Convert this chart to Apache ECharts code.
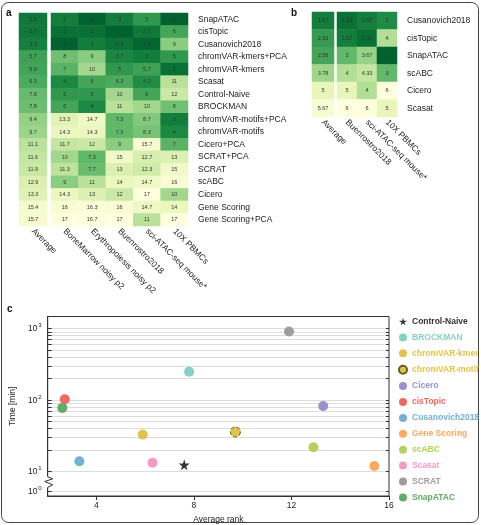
<!DOCTYPE html>
<html>
<head>
<meta charset="utf-8">
<script src="https://cdn.jsdelivr.net/npm/echarts@6/dist/echarts.min.js"></script>
<style>
html, body { margin: 0; padding: 0; background: #fff; }
#main { width: 481px; height: 525px; }
</style>
</head>
<body>
<div id="main"></div>
<script>
// panel a
var methodsA = ['SnapATAC', 'cisTopic', 'Cusanovich2018', 'chromVAR-kmers+PCA', 'chromVAR-kmers', 'Scasat',
    'Control-Naive', 'BROCKMAN', 'chromVAR-motifs+PCA', 'chromVAR-motifs', 'Cicero+PCA', 'SCRAT+PCA',
    'SCRAT', 'scABC', 'Cicero', 'Gene Scoring', 'Gene Scoring+PCA'];
var datasetsA = ['BoneMarrow noisy p2', 'Erythropoiesis noisy p2', 'Buenrostro2018', 'sci-ATAC-seq mouse*', '10X PBMCs'];
var averageA = [2.6, 2.7, 3.3, 5.7, 5.9, 6.3, 7.6, 7.8, 9.4, 9.7, 11.1, 11.6, 11.9, 12.9, 13.3, 15.4, 15.7];
var ranksA = [
    [3, 1, 3, 5, 1],
    [2, 2, 1, 2.7, 6],
    [1, 3, 2.3, 1.3, 9],
    [8, 9, 3.7, 3, 5],
    [7, 10, 5, 5.7, 2],
    [4, 6, 6.3, 4.3, 11],
    [5, 5, 10, 6, 12],
    [6, 4, 11, 10, 8],
    [13.3, 14.7, 7.3, 8.7, 3],
    [14.3, 14.3, 7.3, 8.3, 4],
    [11.7, 12, 9, 15.7, 7],
    [10, 7.3, 15, 12.7, 13],
    [11.3, 7.7, 13, 12.3, 15],
    [9, 11, 14, 14.7, 16],
    [14.3, 13, 12, 17, 10],
    [16, 16.3, 16, 14.7, 14],
    [17, 16.7, 17, 11, 17]
];

// panel b
var methodsB = ['Cusanovich2018', 'cisTopic', 'SnapATAC', 'scABC', 'Cicero', 'Scasat'];
var datasetsB = ['Buenrostro2018', 'sci-ATAC-seq mouse*', '10X PBMCs'];
var averageB = [1.67, 2.33, 2.56, 3.78, 5, 5.67];
var ranksB = [
    [1.33, 1.67, 2],
    [1.67, 1.33, 4],
    [3, 3.67, 1],
    [4, 4.33, 3],
    [5, 4, 6],
    [6, 6, 5]
];

// panel c
var pointNames = ['Control-Naive', 'BROCKMAN', 'chromVAR-kmer', 'chromVAR-motif', 'Cicero', 'cisTopic',
    'Cusanovich2018', 'Gene Scoring', 'scABC', 'Scasat', 'SCRAT', 'SnapATAC'];
var pointRank = [7.6, 7.8, 5.9, 9.7, 13.3, 2.7, 3.3, 15.4, 12.9, 6.3, 11.9, 2.6];
var pointTime = [12.5, 250, 33, 36, 83, 103, 14, 12, 22, 13.3, 915, 78];
var pointColors = ['#333333', '#84d2c2', '#e2c44c', '#e2c44c', '#9d90d0', '#f06a60', '#70b1d8',
    '#fba95c', '#b2d25c', '#f49bc3', '#a39a9a', '#60ad66'];
var timeTicks = [1, 10, 100, 1000];
var rankTicks = [4, 8, 12, 16];

var greens = ['#00632f', '#1e8c44', '#62b96a', '#b2de95', '#e9f6bb', '#ffffde'];
var FONT = 'Liberation Sans, Arial, sans-serif';
var BREAK_POS = 0.72; // where 10^0 sits below the axis break

function yPos(t) {
    return t < 10 ? BREAK_POS : Math.log10(t);
}

function heatData(rows, isAverage) {
    var out = [];
    for (var i = 0; i < rows.length; i++) {
        if (isAverage) {
            out.push([0, i, rows[i]]);
        } else {
            for (var j = 0; j < rows[i].length; j++) {
                out.push([j, i, rows[i][j]]);
            }
        }
    }
    return out;
}

function catX(gridIndex, names) {
    return {
        type: 'category', gridIndex: gridIndex, data: names, position: 'bottom',
        axisLine: {show: false}, axisTick: {show: false}, splitArea: {show: false},
        axisLabel: {rotate: -45, fontSize: 8.5, color: '#222', margin: 4, interval: 0}
    };
}

function catY(gridIndex, names, showLabels) {
    return {
        type: 'category', gridIndex: gridIndex, data: names, inverse: true, position: 'right',
        axisLine: {show: false}, axisTick: {show: false}, splitArea: {show: false},
        axisLabel: {show: showLabels, fontSize: 8.5, color: '#222', margin: 10, interval: 0}
    };
}

function heatSeries(idx, data) {
    return {
        type: 'heatmap', xAxisIndex: idx, yAxisIndex: idx, data: data,
        label: {
            show: true, fontSize: 5.5, color: '#333',
            formatter: function (p) { return String(p.value[2]); }
        },
        itemStyle: {borderWidth: 0},
        emphasis: {disabled: true}
    };
}

var labelsA = methodsA.map(function () { return ''; });
var labelsB = methodsB.map(function () { return ''; });

// ticks of the log axis (minor ticks 2..9 in each decade)
var tickValues = [BREAK_POS];
for (var d = 1; d <= 3; d++) {
    for (var k = 1; k <= 9; k++) {
        var v = Math.log10(k * Math.pow(10, d));
        if (v <= 3.17) tickValues.push(v);
    }
}
var labelValues = timeTicks.map(yPos);

var scatterSeries = pointNames.map(function (name, i) {
    var s = {
        name: name, type: 'scatter', xAxisIndex: 4, yAxisIndex: 4,
        data: [[pointRank[i], yPos(pointTime[i])]],
        symbolSize: 10,
        itemStyle: {color: pointColors[i], opacity: 1},
        z: 5
    };
    if (name === 'Control-Naive') {
        s.symbol = 'path://M50,0 L61,35 L98,35 L68,57 L79,91 L50,70 L21,91 L32,57 L2,35 L39,35 Z';
        s.symbolSize = 11;
    }
    if (name === 'chromVAR-motif') {
        s.itemStyle.borderColor = '#6b5a20';
        s.itemStyle.borderWidth = 1;
        s.itemStyle.borderType = 'dashed';
    }
    return s;
});

var chart = echarts.init(document.getElementById('main'));
var option = {
    animation: false,
    backgroundColor: '#fff',
    textStyle: {fontFamily: FONT},
    grid: [
        {left: 19, top: 13, width: 28, height: 213},
        {left: 51, top: 13, width: 137, height: 213},
        {left: 312, top: 12, width: 22, height: 105},
        {left: 337, top: 12, width: 60, height: 105},
        {left: 40.5, top: 316.5, width: 348.5, height: 182.5, show: true, borderColor: '#333', borderWidth: 1}
    ],
    xAxis: [
        catX(0, ['Average']),
        catX(1, datasetsA),
        catX(2, ['Average']),
        catX(3, datasetsB),
        {
            type: 'value', gridIndex: 4, min: 2, max: 16,
            name: 'Average rank', nameLocation: 'middle', nameGap: 19,
            nameTextStyle: {fontSize: 8.5, color: '#222'},
            axisLine: {show: true, lineStyle: {color: '#333'}},
            axisTick: {show: true, customValues: rankTicks, length: 4, lineStyle: {color: '#333'}},
            axisLabel: {customValues: rankTicks, fontSize: 8.5, color: '#222', margin: 5},
            splitLine: {show: false}
        }
    ],
    yAxis: [
        catY(0, labelsA, false),
        catY(1, methodsA, true),
        catY(2, labelsB, false),
        catY(3, methodsB, true),
        {
            type: 'value', gridIndex: 4, min: 0.66, max: 3.17, position: 'left',
            name: 'Time [min]', nameLocation: 'middle', nameGap: 25, nameRotate: 90,
            nameTextStyle: {fontSize: 8.5, color: '#222'},
            axisLine: {show: true, lineStyle: {color: '#333'}},
            axisTick: {show: true, inside: true, length: 4, customValues: tickValues, lineStyle: {color: '#333'}},
            axisLabel: {
                customValues: labelValues, fontSize: 8.5, color: '#222', margin: 6,
                formatter: function (v) {
                    var e = v < 0.9 ? 0 : Math.round(v);
                    return '10{s|' + e + '}';
                },
                rich: {s: {fontSize: 6, verticalAlign: 'top', padding: [0, 0, 6, 1], color: '#222'}}
            },
            splitLine: {show: false}
        },
        {
            type: 'value', gridIndex: 4, min: 0.66, max: 3.17, position: 'right',
            axisLine: {show: false},
            axisTick: {show: true, inside: true, length: 3, customValues: tickValues, lineStyle: {color: '#333'}},
            axisLabel: {show: true, customValues: tickValues, formatter: function () { return ''; }},
            splitLine: {show: true, lineStyle: {color: '#dcdcdc', width: 1}}
        }
    ],
    visualMap: [
        {show: false, seriesIndex: [0, 1], min: 1, max: 17, inRange: {color: greens}},
        {show: false, seriesIndex: [2, 3], min: 1, max: 6, inRange: {color: greens}}
    ],
    legend: {
        orient: 'vertical', left: 393, top: 312,
        itemWidth: 8, itemHeight: 8, itemGap: 6.9,
        textStyle: {fontSize: 8.5, fontWeight: 'bold'},
        data: pointNames.map(function (n, i) {
            return {name: n, textStyle: {color: i === 0 ? '#333' : pointColors[i]}};
        })
    },
    series: [
        heatSeries(0, heatData(averageA, true)),
        heatSeries(1, heatData(ranksA, false)),
        heatSeries(2, heatData(averageB, true)),
        heatSeries(3, heatData(ranksB, false))
    ].concat(scatterSeries)
};
chart.setOption(option);

// axis-break zigzag and frame
var ax = chart.convertToPixel({xAxisIndex: 4}, 2);
var yTop = chart.convertToPixel({yAxisIndex: 4}, 0.93);
var yBot = chart.convertToPixel({yAxisIndex: 4}, 0.78);
var h = yBot - yTop;
chart.setOption({
    graphic: [
        {type: 'rect', shape: {x: 1.5, y: 2.5, width: 477, height: 520, r: 7},
            style: {fill: 'none', stroke: '#444', lineWidth: 1}, silent: true},
        {type: 'rect', shape: {x: ax - 2, y: yTop, width: 4, height: h},
            style: {fill: '#fff'}, z: 100, silent: true},
        {type: 'polyline', z: 101, silent: true,
            shape: {points: [[ax, yTop], [ax + 5, yTop + h * 0.2], [ax - 3, yTop + h * 0.45],
                [ax + 5, yTop + h * 0.75], [ax, yBot]]},
            style: {stroke: '#333', lineWidth: 1, fill: 'none'}},
        {type: 'text', left: 6, top: 8, style: {text: 'a', font: 'bold 10px ' + FONT, fill: '#111'}},
        {type: 'text', left: 291, top: 8, style: {text: 'b', font: 'bold 10px ' + FONT, fill: '#111'}},
        {type: 'text', left: 7, top: 304, style: {text: 'c', font: 'bold 10px ' + FONT, fill: '#111'}}
    ]
});
</script>
</body>
</html>
